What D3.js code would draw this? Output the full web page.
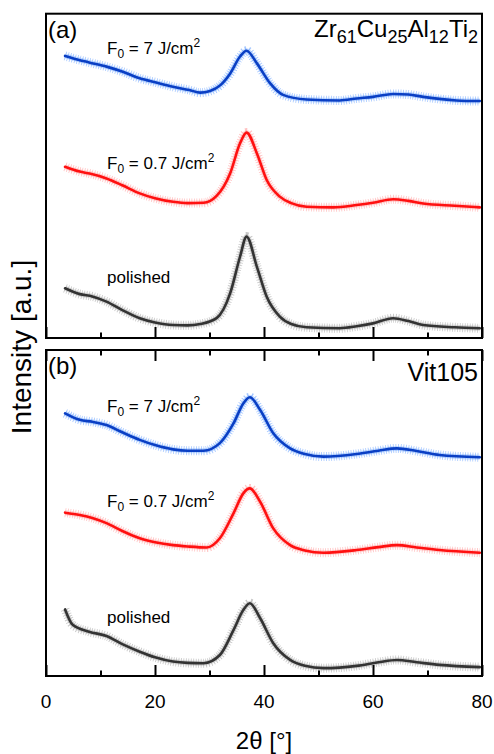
<!DOCTYPE html>
<html><head><meta charset="utf-8">
<script src="https://cdn.jsdelivr.net/npm/d3@7"></script>
<style>body{margin:0;background:#fff} text{font-family:"Liberation Sans",Arial,Helvetica,sans-serif;fill:#000}</style>
</head><body><svg id="c" width="494" height="754"></svg>
<script>
// ---- data (2θ in degrees, intensity in arbitrary units, offset curves) ----
const xTicks = [0, 20, 40, 60, 80];
const xMinorTicks = [10, 30, 50, 70];

const aBlueX  = [3.5, 4.9, 7.9, 11.1, 14.1, 17.2, 20.2, 23.3, 26.3, 28.3, 30.1, 32.0, 33.8, 35.6, 36.8, 38.7, 41.1, 43.5, 47.8, 53.9, 57, 60, 63.7, 66.5, 69.2, 75.3, 79.6];
const aBlueY  = [86.8, 86.1, 84.8, 83.5, 81.9, 79.9, 78.6, 77.3, 76.3, 75.5, 76.0, 77.8, 81.4, 86.6, 88.4, 84.5, 78.4, 74.8, 73.4, 73.1, 73.7, 74.2, 75.1, 74.9, 74.2, 73.1, 72.9];
const aRedX   = [3.5, 6.2, 8.0, 11.1, 14.0, 17.2, 20.0, 23.3, 26.0, 28.9, 31.3, 33.8, 35.6, 36.8, 38.7, 40.5, 42.9, 45.0, 47.8, 52.7, 57, 60, 63.7, 66.5, 69.2, 75, 79.6];
const aRedY   = [52.7, 51.2, 50.6, 49.1, 47.0, 44.5, 43.0, 41.9, 41.5, 41.6, 43.7, 50.7, 59.9, 63.2, 56.8, 48.6, 43.5, 41.5, 40.4, 40.2, 40.9, 41.6, 42.7, 42.2, 41.4, 40.7, 40.2];
const aBlackX = [3.5, 6.2, 8.5, 11.1, 14.0, 17.2, 20.0, 23.3, 26.0, 28.3, 31.3, 33.8, 35.6, 36.8, 38.7, 40.5, 42.9, 45.0, 47.8, 53.9, 57, 60, 63.7, 66.5, 69.2, 75, 79.6];
const aBlackY = [15.3, 13.5, 12.8, 11.2, 8.6, 6.1, 4.8, 4.0, 3.9, 4.3, 6.1, 13.8, 25.0, 31.2, 21.9, 12.7, 6.6, 4.3, 3.3, 3.0, 3.6, 4.5, 6.1, 5.2, 4.0, 3.3, 3.0];

const bBlueX  = [3.5, 6.2, 8.5, 11.1, 14.0, 17.2, 20.0, 23.3, 26.0, 28.9, 31.9, 34.4, 36.2, 37.4, 39.3, 41.7, 44.8, 47.5, 50.9, 57, 61, 64.4, 68, 72.2, 79.6];
const bBlueY  = [80.4, 78.4, 77.8, 76.8, 74.6, 72.3, 70.7, 69.4, 69.0, 69.0, 71.3, 77.3, 83.4, 85.3, 81.4, 74.3, 69.7, 68.0, 67.2, 68.0, 69.0, 69.7, 68.9, 67.7, 67.0];
const bRedX   = [3.5, 6.2, 8.5, 11.1, 14.0, 17.2, 20.0, 23.3, 26.0, 29.5, 31.9, 34.4, 36.2, 37.4, 39.3, 41.7, 44.8, 47.5, 50.9, 57, 61, 64.4, 68, 72.2, 79.6];
const bRedY   = [50.1, 49.4, 48.5, 46.9, 44.5, 42.3, 41.1, 40.2, 39.8, 39.5, 42.3, 49.9, 56.0, 57.5, 53.4, 45.3, 40.2, 38.6, 37.9, 38.7, 39.6, 40.2, 39.5, 38.7, 37.9];
const bBlackX = [3.5, 4.9, 7.9, 11.1, 14.0, 17.2, 20.0, 23.3, 26.0, 28.9, 31.9, 34.4, 36.2, 37.4, 39.3, 41.7, 44.8, 47.5, 50.9, 57, 61, 64.4, 68, 72.2, 79.6];
const bBlackY = [20.6, 15.9, 13.8, 12.5, 10.0, 7.7, 6.0, 4.7, 4.3, 4.2, 6.7, 14.3, 20.4, 22.5, 17.9, 10.3, 5.2, 3.4, 2.7, 3.4, 4.5, 5.2, 4.5, 3.7, 3.0];

const seriesLabels = ["F0 = 7 J/cm2", "F0 = 0.7 J/cm2", "polished"];

// ---- drawing ----
const svg = d3.select("#c");
const x = d3.scaleLinear().domain([0, 80]).range([46, 482]);
const panels = [
  {top: 13.7, bottom: 338, y: d3.scaleLinear().domain([0, 100]).range([338, 13]),
   tag: "(a)", series: [[aBlueX, aBlueY], [aRedX, aRedY], [aBlackX, aBlackY]],
   labelY: [54, 169, 283], tickTop: false},
  {top: 350, bottom: 676, y: d3.scaleLinear().domain([0, 100]).range([677, 349]),
   tag: "(b)", series: [[bBlueX, bBlueY], [bRedX, bRedY], [bBlackX, bBlackY]],
   labelY: [412, 507, 623], tickTop: true}
];
const mainCol  = ["#0a3fc4", "#ff1010", "#333333"];
const noiseCol = ["#5d9bff", "#ff8f8f", "#999999"];

panels.forEach((p, pi) => {
  const g = svg.append("g");
  const line = d3.line().x(d => x(d[0])).y(d => p.y(d[1])).curve(d3.curveMonotoneX);
  p.series.forEach((s, si) => {
    const pts = s[0].map((v, i) => [v, s[1][i]]);
    const d = line(pts);
    g.append("path").attr("d", d).attr("fill", "none")
      .attr("stroke", noiseCol[si]).attr("stroke-width", 5).attr("opacity", 0.35)
      .attr("stroke-linejoin", "round");
    g.append("path").attr("d", d).attr("fill", "none")
      .attr("stroke", noiseCol[si]).attr("stroke-width", 9).attr("opacity", 0.55)
      .attr("stroke-dasharray", "0.8 1.7").attr("stroke-linejoin", "round");
    g.append("path").attr("d", d).attr("fill", "none")
      .attr("stroke", mainCol[si]).attr("stroke-width", 2.6)
      .attr("stroke-linejoin", "round").attr("stroke-linecap", "round");
  });
  // frame
  g.append("rect").attr("x", x(0)).attr("y", p.top).attr("width", x(80) - x(0))
    .attr("height", p.bottom - p.top).attr("fill", "none").attr("stroke", "#000").attr("stroke-width", 2);
  // ticks bottom (inward)
  const axB = d3.axisBottom(x).tickValues(xTicks).tickSize(-11).tickFormat("");
  const axBm = d3.axisBottom(x).tickValues(xMinorTicks).tickSize(-5.5).tickFormat("");
  [axB, axBm].forEach(ax => {
    const t = g.append("g").attr("transform", `translate(0,${p.bottom})`).call(ax);
    t.select(".domain").remove();
    t.selectAll("line").attr("stroke", "#000").attr("stroke-width", 2);
  });
  if (p.tickTop) {
    const axT = d3.axisTop(x).tickValues(xTicks).tickSize(-11).tickFormat("");
    const axTm = d3.axisTop(x).tickValues(xMinorTicks).tickSize(-5.5).tickFormat("");
    [axT, axTm].forEach(ax => {
      const t = g.append("g").attr("transform", `translate(0,${p.top})`).call(ax);
      t.select(".domain").remove();
      t.selectAll("line").attr("stroke", "#000").attr("stroke-width", 2);
    });
  }
  // panel tag
  g.append("text").attr("x", 48).attr("y", p.top + 24).attr("font-size", 24).text(p.tag);
  // series labels
  seriesLabels.forEach((lab, si) => {
    const t = g.append("text").attr("x", 107).attr("y", p.labelY[si]).attr("font-size", 17);
    if (si < 2) {
      t.append("tspan").text("F");
      t.append("tspan").attr("font-size", 12).attr("dy", 4).text("0");
      t.append("tspan").attr("dy", -4).text(si === 0 ? " = 7 J/cm" : " = 0.7 J/cm");
      t.append("tspan").attr("font-size", 12).attr("dy", -7).text("2");
    } else {
      t.text(lab);
    }
  });
});

// material titles
const t1 = svg.append("text").attr("x", 478).attr("y", 37).attr("font-size", 24).attr("text-anchor", "end");
[["Zr", 0], ["61", 1], ["Cu", 0], ["25", 1], ["Al", 0], ["12", 1], ["Ti", 0], ["2", 1]].forEach((d, i, arr) => {
  const prev = i > 0 ? arr[i - 1][1] : 0;
  const dy = d[1] === prev ? 0 : (d[1] ? 6 : -6);
  t1.append("tspan").attr("font-size", d[1] ? 18 : 24).attr("dy", dy).text(d[0]);
});
svg.append("text").attr("x", 478).attr("y", 381).attr("font-size", 25).attr("text-anchor", "end").text("Vit105");

// x tick labels
svg.selectAll(".xl").data(xTicks).enter().append("text")
  .attr("x", d => x(d)).attr("y", 708).attr("font-size", 19).attr("text-anchor", "middle").text(d => d);
// axis titles
svg.append("text").attr("x", 264).attr("y", 749).attr("font-size", 24).attr("text-anchor", "middle").text("2θ [°]");
svg.append("text").attr("transform", "translate(31,347) rotate(-90)").attr("font-size", 28)
  .attr("text-anchor", "middle").text("Intensity [a.u.]");
</script></body></html>
